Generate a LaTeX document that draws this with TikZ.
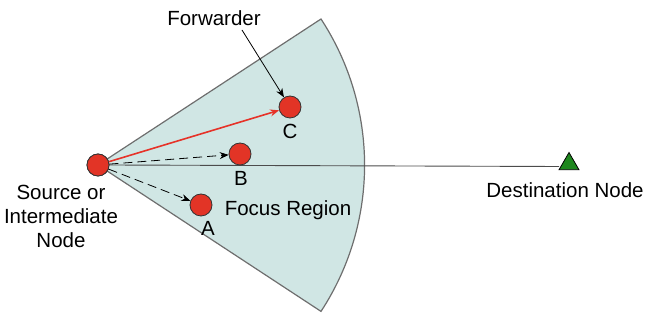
\documentclass[tikz,border=0pt]{standalone}
\usepackage{fontspec}
\setmainfont{Liberation Sans}
\usetikzlibrary{arrows.meta,shapes.geometric}
\definecolor{regionfill}{RGB}{208,230,228}
\definecolor{regionedge}{RGB}{110,110,110}
\definecolor{nodered}{RGB}{226,52,38}
\definecolor{arrowred}{RGB}{230,50,40}
\definecolor{destgreen}{RGB}{30,135,30}
\tikzset{
  x=1pt, y=1pt,
  txt/.style={font=\fontsize{20.5}{24}\selectfont, inner sep=0pt},
  relay/.style={circle, draw=black!80, line width=0.8pt, fill=nodered, minimum size=22pt, inner sep=0pt},
  tip/.style={-{Stealth[length=9pt,width=7pt]}},
  dasharrow/.style={tip, draw=black, line width=0.8pt, dash pattern=on 9pt off 5pt},
}
\begin{document}
\begin{tikzpicture}
\useasboundingbox (0,0) rectangle (649,324);
% focus region sector
\filldraw[fill=regionfill, draw=regionedge, line width=1.2pt]
  (98,159) -- (321,305) arc[start angle=33.2, end angle=-33.2, radius=267] -- cycle;
% destination
\coordinate (Dl) at (559,157.5);
\node[relay] (S) at (98,159) {};
\draw[line width=0.9pt, draw=black!70] (S.east) -- (Dl);
\node[draw=black, line width=0.8pt, fill=destgreen, regular polygon, regular polygon sides=3, minimum size=23pt, inner sep=0pt] (D) at (569,160) {};
\node[relay] (S2) at (98,159) {};
\node[relay] (C) at (290,217) {};
\node[relay] (B) at (240,170) {};
\node[relay] (A) at (201,119) {};
% labels
\node[txt] (lC) at (290,193) {C};
\node[txt] (lB) at (241,146) {B};
\node[txt] (lA) at (208,96) {A};
\node[txt] (fw) at (214,306) {Forwarder};
\node[txt] (fr) at (288,114) {Focus Region};
\node[txt, align=center] (src) at (61,108) {Source or\\Intermediate\\Node};
\node[txt] (dst) at (565,134) {Destination Node};
% arrows
\coordinate (fwtail) at (242,294);
\draw[tip, line width=0.8pt] (fwtail) -- (C);
\draw[tip, draw=arrowred, fill=arrowred, line width=1.6pt] (S2) -- (C);
\draw[dasharrow] (S2) -- (B);
\draw[dasharrow] (S2) -- (A);
\end{tikzpicture}
\end{document}
